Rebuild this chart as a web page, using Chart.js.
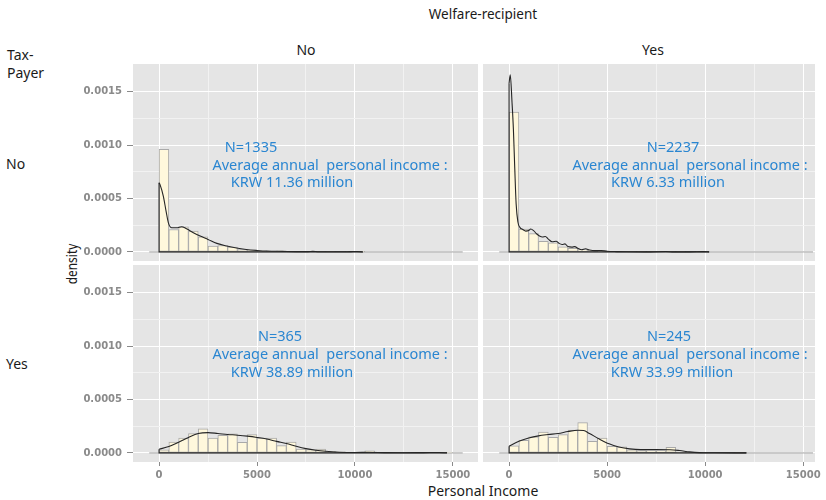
<!DOCTYPE html>
<html>
<head>
<meta charset="utf-8">
<script src="https://cdn.jsdelivr.net/npm/chart.js@4.4.1/dist/chart.umd.min.js"></script>
<style>
  html, body { margin: 0; padding: 0; background: #fff; }
  body { width: 826px; height: 500px; position: relative; overflow: hidden; font-family: "Noto Sans", sans-serif; }
  .pane { position: absolute; }
  .lbl { position: absolute; white-space: pre; line-height: 1; color: #1a1a1a; font-size: 14px; transform: translate(-50%, -50%); }
  .side { position: absolute; white-space: pre; line-height: 1; color: #1a1a1a; font-size: 14px; transform: translateY(-50%); }
  .note { position: absolute; white-space: pre; line-height: 1; color: #2a86d1; font-size: 14.5px; transform: translate(-50%, -50%); }
</style>
</head>
<body>

<div class="lbl" style="left:483px;top:15px;font-size:13.5px;">Welfare-recipient</div>
<div class="lbl" style="left:306px;top:50px;">No</div>
<div class="lbl" style="left:653px;top:50px;">Yes</div>
<div class="side" style="left:7px;top:55px;">Tax-</div>
<div class="side" style="left:7px;top:73px;">Payer</div>
<div class="side" style="left:6px;top:164px;">No</div>
<div class="side" style="left:6px;top:364px;">Yes</div>
<div class="lbl" style="left:72px;top:264px;font-size:14px;transform:translate(-50%,-50%) rotate(-90deg) scaleX(0.85);">density</div>
<div class="lbl" style="left:483px;top:491px;">Personal Income</div>

<canvas id="pNoNo" class="pane" style="left:78px;top:64px;" width="400" height="197"></canvas>
<canvas id="pNoYes" class="pane" style="left:483px;top:64px;" width="343" height="197"></canvas>
<canvas id="pYesNo" class="pane" style="left:78px;top:265px;" width="400" height="217"></canvas>
<canvas id="pYesYes" class="pane" style="left:483px;top:265px;" width="343" height="217"></canvas>

<div class="note" style="left:251px;top:146px;">N=1335</div>
<div class="note" style="left:330px;top:164px;">Average annual  personal income :</div>
<div class="note" style="left:292px;top:181px;">KRW 11.36 million</div>

<div class="note" style="left:673px;top:146px;">N=2237</div>
<div class="note" style="left:690px;top:164px;">Average annual  personal income :</div>
<div class="note" style="left:668px;top:181px;">KRW 6.33 million</div>

<div class="note" style="left:280px;top:335px;">N=365</div>
<div class="note" style="left:330px;top:353px;">Average annual  personal income :</div>
<div class="note" style="left:292px;top:371px;">KRW 38.89 million</div>

<div class="note" style="left:669px;top:335px;">N=245</div>
<div class="note" style="left:690px;top:353px;">Average annual  personal income :</div>
<div class="note" style="left:672px;top:371px;">KRW 33.99 million</div>

<script>
// Histogram bins (lower edge of each 500-wide bin, personal income)
const binStarts = [0, 500, 1000, 1500, 2000, 2500, 3000, 3500, 4000, 4500,
  5000, 5500, 6000, 6500, 7000, 7500, 8000, 8500, 9000, 9500,
  10000, 10500, 11000, 11500, 12000, 12500, 13000, 13500, 14000, 14500];
const binWidth = 500;

// Tick positions
const xTicks = [0, 2500, 5000, 7500, 10000, 12500, 15000];
const yTicks = [0, 0.00025, 0.0005, 0.00075, 0.001, 0.00125, 0.0015];

// Histogram densities: tax-payer x welfare-recipient
const histTaxNoWelNo = [0.00096, 0.00021, 0.000235, 0.000195, 0.000142, 0.000055, 0.00006, 0.000045, 0.000022, 0.000014,
  0.00001, 0.000008, 0.00001, 0.000006, 0.000004, 0.000005, 0.000004, 0.000002, 0, 0.000003,
  0.000003, 0, 0, 0, 0, 0, 0, 0, 0, 0];
const histTaxNoWelYes = [0.00131, 0.000215, 0.000172, 0.0001, 0.000085, 0.000048, 0.000033, 0.000023, 0.000014, 0.00001,
  0.000006, 0.000004, 0.000003, 0.000002, 0.000002, 0.000002, 0.000003, 0.000002, 0, 0.000002,
  0, 0, 0, 0, 0, 0, 0, 0, 0, 0];
const histTaxYesWelNo = [0.00003, 0.000102, 0.00014, 0.00018, 0.000226, 0.00014, 0.000164, 0.000178, 0.0001, 0.000172,
  0.00014, 0.000138, 0.000069, 0.000102, 0.000037, 0.000031, 0.000035, 0.000015, 0.000011, 0.000004,
  0.000003, 0.00002, 0.000003, 0, 0, 0, 0, 0, 0.000005, 0.000004];
const histTaxYesWelYes = [0.000066, 0.000118, 0.00015, 0.000195, 0.000145, 0.000172, 0.000214, 0.000284, 0.000109, 0.00014,
  0.000062, 0.000056, 0.00003, 0.000022, 0.00002, 0.00002, 0.000053, 0.00001, 0.000003, 0.000002,
  0, 0, 0, 0.000002, 0, 0, 0, 0, 0, 0];

// Kernel density curves
const densXTaxNoWelNo = [0, 50, 220, 360, 480, 650, 900, 1150, 1400, 1750, 2100, 2500, 2950, 3450, 3950, 4450, 5000, 5500, 6300, 7000, 7600, 7850, 8100, 9000, 9800, 10100, 10400];
const densYTaxNoWelNo = [0.000647, 0.00063, 0.00052, 0.00038, 0.00027, 0.000226, 0.000226, 0.000236, 0.000217, 0.00018, 0.000148, 0.000117, 0.00008, 0.000055, 0.000036, 0.000023, 0.000014, 0.000008, 0.000005, 0.000003, 0.000003, 0.000005, 0.000002, 0.000001, 0.000003, 0.000004, 0];

const densXTaxNoWelYes = [0, 60, 150, 220, 290, 360, 450, 550, 700, 850, 1000, 1100, 1250, 1400, 1550, 1700, 1850, 2000, 2200, 2400, 2550, 2700, 2850, 3000, 3200, 3350, 3500, 3700, 3900, 4100, 4400, 4700, 5000, 5500, 6000, 7000, 8000, 8400, 9200, 9900, 10200];
const densYTaxNoWelYes = [0.00158, 0.00166, 0.0014, 0.00115, 0.00078, 0.00045, 0.00028, 0.00023, 0.00021, 0.000195, 0.0002, 0.000215, 0.0002, 0.00017, 0.00015, 0.00014, 0.000145, 0.00012, 0.000095, 0.0001, 0.00008, 0.00007, 0.000075, 0.00005, 0.000045, 0.00005, 0.000035, 0.00002, 0.00003, 0.000018, 0.000012, 0.000014, 0.000006, 0.000003, 0.000001, 0, 0.000004, 0, 0, 0.000003, 0];

const densXTaxYesWelNo = [0, 500, 1000, 1500, 2000, 2500, 3000, 3500, 4000, 4500, 5000, 5500, 6000, 6500, 7000, 7500, 8000, 8500, 9200, 10000, 10700, 11500, 12500, 13500, 14300, 14700];
const densYTaxYesWelNo = [0.000035, 0.00006, 0.0001, 0.000145, 0.000182, 0.00019, 0.000182, 0.000173, 0.000166, 0.000157, 0.000145, 0.00013, 0.000108, 0.000088, 0.000062, 0.00004, 0.000025, 0.000015, 0.000007, 0.000004, 0.000006, 0.000003, 0.000002, 0.000003, 0.000004, 0.000001];

const densXTaxYesWelYes = [0, 500, 1000, 1500, 2000, 2500, 3000, 3500, 3800, 4100, 4600, 5100, 5600, 6150, 6700, 7500, 8200, 8700, 9200, 9700, 10500, 12100];
const densYTaxYesWelYes = [0.000062, 0.00011, 0.00014, 0.00016, 0.000172, 0.000182, 0.0002, 0.000213, 0.00021, 0.000182, 0.00013, 0.000085, 0.000056, 0.000038, 0.000031, 0.000031, 0.00003, 0.000022, 0.00001, 0.000003, 0.000001, 0];

// grey panel background behind the grid
const panelBg = {
  id: 'panelBg',
  beforeDraw(chart) {
    const { ctx, chartArea: a } = chart;
    ctx.save();
    ctx.fillStyle = '#E5E5E5';
    ctx.fillRect(a.left, a.top, a.right - a.left, a.bottom - a.top);
    ctx.restore();
  }
};

const isMajorX = v => Math.abs(v % 5000) < 1e-6;
const isMajorY = v => Math.abs(v / 0.0005 - Math.round(v / 0.0005)) < 1e-6;
const tickValue = c => (c && c.tick) ? c.tick.value : NaN;
const tickFont = { family: '"DejaVu Sans", sans-serif', size: 10, weight: 'bold' };
const tickGrey = '#8a8a8a';

function drawPanel(id, hist, densX, densY, showX, showY, xMax, padRight) {
  const bars = binStarts.map((b, i) => ({ x: b + binWidth / 2, y: hist[i] }));
  const curve = densX.map((x, i) => ({ x: x, y: densY[i] }));
  const last = densX[densX.length - 1];
  const outline = [{ x: 0, y: densY[0] }, { x: 0, y: 0 }, { x: last, y: 0 }];
  const base = [{ x: binStarts[0] - binWidth, y: 0 }, { x: binStarts[binStarts.length - 1] + 2 * binWidth, y: 0 }];

  new Chart(document.getElementById(id), {
    type: 'bar',
    data: {
      datasets: [
        { type: 'line', data: curve, borderColor: '#262626', borderWidth: 1.1, pointRadius: 0,
          cubicInterpolationMode: 'monotone', order: 0 },
        { type: 'line', data: outline, borderColor: '#262626', borderWidth: 1.1, pointRadius: 0,
          tension: 0, order: 1 },
        { type: 'bar', data: bars, backgroundColor: '#FFF8DC', borderColor: '#a9a9a9', borderWidth: 1,
          borderSkipped: false, barPercentage: 1, categoryPercentage: 1, order: 2 },
        { type: 'line', data: base, borderColor: '#a3a3a3', borderWidth: 1, pointRadius: 0, order: 3 }
      ]
    },
    plugins: [panelBg],
    options: {
      responsive: false,
      animation: false,
      events: [],
      layout: { padding: { left: 0, top: 0, bottom: 0, right: padRight } },
      plugins: { legend: { display: false }, tooltip: { enabled: false } },
      scales: {
        x: {
          type: 'linear', min: -1330, max: xMax, offset: false,
          afterBuildTicks: s => { s.ticks = xTicks.map(v => ({ value: v })); },
          afterFit: s => { s.height = showX ? 20 : 0; s.paddingLeft = 0; s.paddingRight = 0; },
          border: { display: false },
          grid: {
            offset: false,
            color: c => isMajorX(tickValue(c)) ? '#ffffff' : '#f2f2f2',
            lineWidth: 1,
            drawTicks: showX, tickLength: 4,
            tickColor: c => isMajorX(tickValue(c)) ? tickGrey : 'rgba(0,0,0,0)'
          },
          ticks: {
            display: showX, autoSkip: false, maxRotation: 0, padding: 3,
            color: tickGrey, font: tickFont,
            callback: v => isMajorX(v) ? String(v) : ''
          }
        },
        y: {
          type: 'linear', min: -0.000085, max: 0.00176,
          afterBuildTicks: s => { s.ticks = yTicks.map(v => ({ value: v })); },
          afterFit: s => { s.width = showY ? 55 : 0; s.paddingTop = 0; s.paddingBottom = 0; },
          border: { display: false },
          grid: {
            offset: false,
            color: c => isMajorY(tickValue(c)) ? '#ffffff' : '#f2f2f2',
            lineWidth: 1,
            drawTicks: showY, tickLength: 6,
            tickColor: c => isMajorY(tickValue(c)) ? tickGrey : 'rgba(0,0,0,0)'
          },
          ticks: {
            display: showY, autoSkip: false, padding: 5,
            color: tickGrey, font: tickFont,
            callback: v => isMajorY(v) ? v.toFixed(4) : ''
          }
        }
      }
    }
  });
}

drawPanel('pNoNo', histTaxNoWelNo, densXTaxNoWelNo, densYTaxNoWelNo, false, true, 16280, 0);
drawPanel('pNoYes', histTaxNoWelYes, densXTaxNoWelYes, densYTaxNoWelYes, false, false, 15600, 11);
drawPanel('pYesNo', histTaxYesWelNo, densXTaxYesWelNo, densYTaxYesWelNo, true, true, 16280, 0);
drawPanel('pYesYes', histTaxYesWelYes, densXTaxYesWelYes, densYTaxYesWelYes, true, false, 15600, 11);
</script>
</body>
</html>
